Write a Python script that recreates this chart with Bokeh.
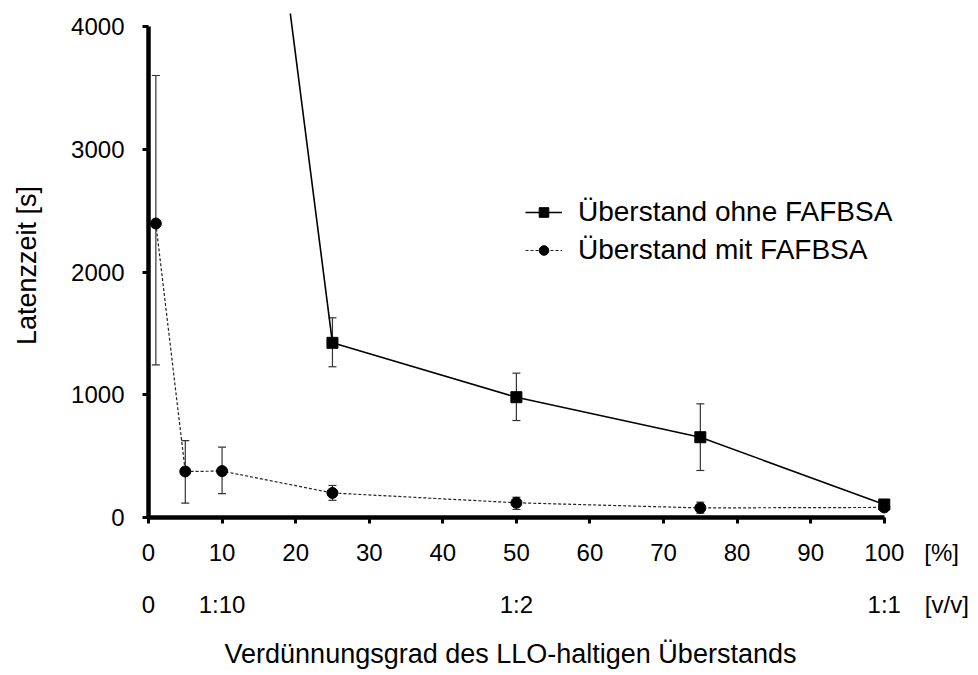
from bokeh.plotting import figure
from bokeh.models import (Range1d, LinearAxis, FixedTicker, Whisker, ColumnDataSource,
                          Legend, LegendItem, TeeHead)
from bokeh.embed import file_html
from bokeh.resources import INLINE

# ---- data ----
x_mit = [1, 5, 10, 25, 50, 75, 100]
y_mit = [2395, 375, 378, 200, 120, 78, 82]
lo_mit = [1244, 117, 195, 140, 65, 35, 60]
hi_mit = [3601, 627, 573, 261, 165, 125, 105]

x_ohne = [10, 25, 50, 75, 100]
y_ohne = [8450, 1423, 980, 654, 106]
lo_ohne = [8450, 1228, 790, 383, 90]
hi_ohne = [8450, 1627, 1176, 926, 125]

pct_ticks = [0, 10, 20, 30, 40, 50, 60, 70, 80, 90, 100]
pct_labels = [str(t) for t in pct_ticks]
pct_unit = "[%]"
vv_ticks = [0, 10, 50, 100]
vv_labels = ["0", "1:10", "1:2", "1:1"]
vv_unit = "[v/v]"
y_ticks = [0, 1000, 2000, 3000, 4000]
x_title = "Verdünnungsgrad des LLO-haltigen Überstands"
y_title = "Latenzzeit [s]"

# placement of the unit captions and x title (style, in axis units)
PCT_UNIT_POS = 107.8
VV_UNIT_POS = 108.5
X_TITLE_POS = 49.2

FONT = "Liberation Sans"

p = figure(width=978, height=675, output_backend="svg", toolbar_location=None,
           x_range=Range1d(0, 109), y_range=Range1d(0, 4106),
           min_border_left=148, min_border_right=28, min_border_top=13, min_border_bottom=158,
           x_axis_type=None, y_axis_type=None)
p.outline_line_color = None
p.xgrid.visible = False
p.ygrid.visible = False

# y axis
ya = LinearAxis(ticker=FixedTicker(ticks=y_ticks), bounds=(0, 4000), axis_label=y_title)
ya.axis_line_width = 4.5
ya.axis_line_color = "black"
ya.major_tick_line_width = 3
ya.major_tick_out = 6
ya.major_tick_in = 0
ya.minor_tick_line_color = None
ya.major_label_standoff = 18
ya.major_label_text_font = FONT
ya.major_label_text_font_size = "24px"
ya.major_label_text_color = "black"
ya.axis_label_text_font = FONT
ya.axis_label_text_font_size = "27px"
ya.axis_label_text_font_style = "normal"
ya.axis_label_text_color = "black"
ya.axis_label_standoff = 26
p.add_layout(ya, "left")

# x axis line + tick marks (0..100), drawn as minor ticks so no labels
xc = LinearAxis(ticker=FixedTicker(ticks=[], minor_ticks=pct_ticks), bounds=(0, 100))
xc.axis_line_width = 4.5
xc.axis_line_color = "black"
xc.major_tick_out = 6
xc.major_tick_in = 0
xc.minor_tick_line_width = 3
xc.minor_tick_line_color = "black"
xc.minor_tick_out = 6
xc.minor_tick_in = 0
xc.major_label_standoff = 0
p.add_layout(xc, "below")


def label_axis(ticks, labels, standoff, size):
    ax = LinearAxis(ticker=FixedTicker(ticks=ticks, minor_ticks=[]),
                    major_label_overrides=dict(zip(ticks, labels)))
    ax.axis_line_color = None
    ax.major_tick_line_color = None
    ax.minor_tick_line_color = None
    ax.major_tick_out = 0
    ax.major_tick_in = 0
    ax.major_label_standoff = standoff
    ax.major_label_text_font = FONT
    ax.major_label_text_font_size = size
    ax.major_label_text_color = "black"
    return ax


# x tick labels (%) with unit
p.add_layout(label_axis(pct_ticks + [PCT_UNIT_POS], pct_labels + [pct_unit], 15, "24px"), "below")
# second x row (v/v) with unit
p.add_layout(label_axis(vv_ticks + [VV_UNIT_POS], vv_labels + [vv_unit], 22, "24px"), "below")
# x title
p.add_layout(label_axis([X_TITLE_POS], [x_title], 18, "27px"), "below")

# data
src_o = ColumnDataSource(dict(x=x_ohne, y=y_ohne, lo=lo_ohne, hi=hi_ohne))
src_m = ColumnDataSource(dict(x=x_mit, y=y_mit, lo=lo_mit, hi=hi_mit))

for src in (src_o, src_m):
    w = Whisker(source=src, base="x", lower="lo", upper="hi",
                line_color="#333333", line_width=1.2,
                upper_head=TeeHead(size=8, line_color="#333333", line_width=1.2),
                lower_head=TeeHead(size=8, line_color="#333333", line_width=1.2))
    p.add_layout(w)

l_o = p.line("x", "y", source=src_o, line_color="black", line_width=1.6)
s_o = p.scatter("x", "y", source=src_o, marker="square", size=11, color="black")
l_m = p.line("x", "y", source=src_m, line_color="#222222", line_width=1.2, line_dash="3 2")
s_m = p.scatter("x", "y", source=src_m, marker="circle", size=11, color="black")

legend = Legend(items=[LegendItem(label="Überstand ohne FAFBSA", renderers=[l_o, s_o]),
                       LegendItem(label="Überstand mit FAFBSA", renderers=[l_m, s_m])],
                location=(377, 251), orientation="vertical")
legend.label_text_font = FONT
legend.label_text_font_size = "28px"
legend.label_text_color = "black"
legend.glyph_width = 37
legend.glyph_height = 24
legend.label_standoff = 16
legend.spacing = 6
legend.padding = 0
legend.margin = 0
legend.border_line_color = None
legend.background_fill_alpha = 0
p.add_layout(legend)

open("out.html", "w").write(file_html(p, INLINE))
